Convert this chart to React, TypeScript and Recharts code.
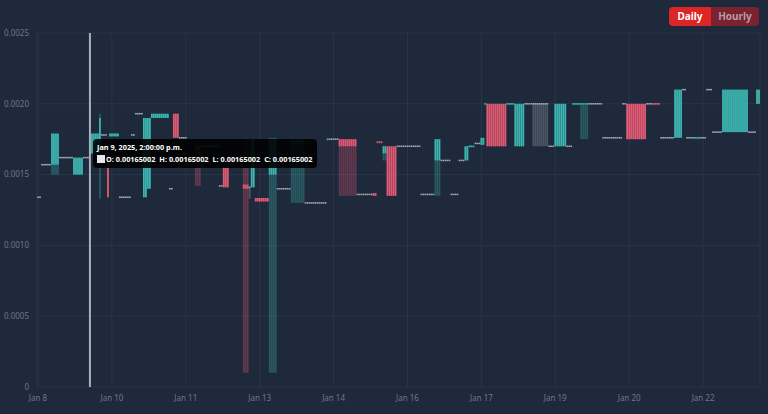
import React from "react";
import { Bar, CartesianGrid, ComposedChart, Tooltip, XAxis, YAxis } from "recharts";

const BG = "#1e293b";
const GRID = "#2a3548";
const TICK = "#6e7889";
const TEAL = "#3cb4b0";
const RED = "#e05a73";
const GRAY = "#a3a9b3";
const FONT = "'Noto Sans', sans-serif";

// hourly candles, start time of the first one
const START = Date.UTC(2025, 0, 8, 12);
const HOURS_PER_TICK = 37;
const tickLabels = ["Jan 8", "Jan 10", "Jan 11", "Jan 13", "Jan 14", "Jan 16", "Jan 17", "Jan 19", "Jan 20", "Jan 22"];
const priceTicks = [0, 0.0005, 0.001, 0.0015, 0.002, 0.0025];

// runs of identical hourly candles (null = no trade)
const runLength = [
  2, 5, 4, 7, 5, 3, 1, 4, 1, 3,
  1, 5, 6, 2, 4, 2, 2, 9, 2, 3,
  4, 4, 3, 9, 2, 3, 7, 3, 1, 2,
  7, 4, 7, 7, 11, 1, 5, 9, 8, 2,
  3, 2, 5, 12, 7, 3, 5, 4, 3, 2,
  3, 3, 2, 1, 10, 4, 5, 4, 8, 3,
  6, 3, 4, 4, 7, 10, 2, 10, 3, 4,
  7, 4, 2, 4, 3, 3, 3, 5, 13, 4,
  2,
];
const runOpen = [
  0.00134, 0.00157, 0.00157, 0.00162, 0.0015, 0.00162, 0.00165002, 0.00165, 0.00165, 0.00178,
  0.00164, 0.00177, 0.00134, 0.00178, 0.00193, 0.00134, 0.0014, 0.0019, 0.0014, 0.00193,
  0.00176, null, 0.0017, 0.0017, 0.00142, 0.00155, null, 0.00143, 0.00141, 0.00141,
  0.001335, 0.0015, 0.0014, 0.00172, 0.0013, 0.00174, 0.00175, 0.00175, 0.00136, 0.00137,
  0.00173, 0.00165, 0.0017, 0.0017, 0.00136, 0.0016, 0.0016, 0.00136, 0.0016, 0.0016,
  0.00169, 0.00172, 0.00171, 0.00199, 0.002, 0.00199, 0.0017, 0.002, 0.002, 0.0017,
  0.0017, 0.0017, 0.00199, 0.00199, 0.002, 0.00176, 0.002, 0.002, 0.002, 0.002,
  0.00176, 0.00176, 0.0021, 0.00176, 0.00175, 0.00176, 0.0021, 0.0018, 0.0018, 0.0018,
  0.002,
];
const runHigh = [
  0.00134, 0.00157, 0.00179, 0.00162, 0.00162, 0.00162, 0.00165002, 0.00179, 0.00193, 0.00178,
  0.00164, 0.00179, 0.00134, 0.00178, 0.00193, 0.0019, 0.0019, 0.00193, 0.0014, 0.00193,
  0.00176, null, 0.0017, 0.0017, 0.00142, 0.00155, null, 0.00175, 0.00141, 0.00175,
  0.001335, 0.00176, 0.0014, 0.00175, 0.0013, 0.00175, 0.00175, 0.00175, 0.00136, 0.00137,
  0.00173, 0.0017, 0.0017, 0.0017, 0.00136, 0.00175, 0.0016, 0.00136, 0.0016, 0.0017,
  0.0017, 0.00172, 0.00176, 0.002, 0.002, 0.002, 0.002, 0.002, 0.002, 0.0017,
  0.002, 0.0017, 0.002, 0.002, 0.002, 0.00176, 0.002, 0.002, 0.002, 0.002,
  0.00176, 0.0021, 0.0021, 0.00176, 0.00176, 0.00176, 0.0021, 0.0018, 0.0021, 0.0018,
  0.0021,
];
const runLow = [
  0.00134, 0.00157, 0.0015, 0.00162, 0.0015, 0.00162, 0.00165002, 0.00165, 0.00133, 0.00178,
  0.00134, 0.00177, 0.00134, 0.00178, 0.00193, 0.00134, 0.0014, 0.0019, 0.0014, 0.00176,
  0.00176, null, 0.00142, 0.0017, 0.00142, 0.00141, null, 0.0001, 0.00133, 0.00141,
  0.00131, 0.0001, 0.0014, 0.0013, 0.0013, 0.00174, 0.00175, 0.00135, 0.00136, 0.00135,
  0.00172, 0.0016, 0.00135, 0.0017, 0.00136, 0.00135, 0.0016, 0.00136, 0.0016, 0.0016,
  0.00169, 0.00172, 0.00171, 0.00199, 0.0017, 0.00199, 0.0017, 0.002, 0.0017, 0.0017,
  0.0017, 0.0017, 0.00199, 0.00175, 0.002, 0.00176, 0.002, 0.00175, 0.002, 0.00199,
  0.00176, 0.00176, 0.0021, 0.00176, 0.00175, 0.00176, 0.0021, 0.0018, 0.0018, 0.0018,
  0.002,
];
const runClose = [
  0.00134, 0.00157, 0.00179, 0.00162, 0.00162, 0.00162, 0.00165002, 0.00179, 0.0019, 0.00178,
  0.00134, 0.00179, 0.00134, 0.00178, 0.00193, 0.0019, 0.0019, 0.00193, 0.0014, 0.00176,
  0.00176, null, 0.00168, 0.0017, 0.00142, 0.00141, null, 0.0014, 0.00141, 0.00175,
  0.00131, 0.00175, 0.0014, 0.00174, 0.0013, 0.00175, 0.00175, 0.0017, 0.00136, 0.00135,
  0.00172, 0.0017, 0.00135, 0.0017, 0.00136, 0.00175, 0.0016, 0.00136, 0.0016, 0.0017,
  0.0017, 0.00172, 0.00176, 0.002, 0.0017, 0.002, 0.002, 0.002, 0.002, 0.0017,
  0.002, 0.0017, 0.002, 0.002, 0.002, 0.00176, 0.002, 0.00175, 0.002, 0.00199,
  0.00176, 0.0021, 0.0021, 0.00176, 0.00176, 0.00176, 0.0021, 0.0018, 0.0021, 0.0018,
  0.0021,
];

type Candle = {
  i: number;
  t: number;
  o: number | null;
  h: number | null;
  l: number | null;
  c: number | null;
  range: [number, number] | null;
};

const candles: Candle[] = [];
runLength.forEach((n, r) => {
  for (let k = 0; k < n; k++) {
    const i = candles.length;
    const o = runOpen[r];
    candles.push({
      i,
      t: START + i * 3600 * 1000,
      o,
      h: runHigh[r],
      l: runLow[r],
      c: runClose[r],
      range: o == null ? null : [runLow[r] as number, runHigh[r] as number],
    });
  }
});

const MONTHS = ["Jan", "Feb", "Mar", "Apr", "May", "Jun", "Jul", "Aug", "Sep", "Oct", "Nov", "Dec"];

function fmtTime(t: number) {
  const d = new Date(t);
  const hr = d.getUTCHours();
  const h12 = hr % 12 === 0 ? 12 : hr % 12;
  const mm = String(d.getUTCMinutes()).padStart(2, "0");
  return `${MONTHS[d.getUTCMonth()]} ${d.getUTCDate()}, ${d.getUTCFullYear()}, ${h12}:${mm}:00 ${hr < 12 ? "a.m." : "p.m."}`;
}

function CandleShape(props: any) {
  const { x, y, width, height, payload } = props;
  if (!payload || payload.o == null) return null;
  const { o, h, l, c } = payload as { o: number; h: number; l: number; c: number };
  const toY = (v: number) => (h === l ? y : y + ((h - v) / (h - l)) * height);
  const bw = Math.max(1, width * 0.88);
  const bx = x + (width - bw) / 2;
  const color = c > o ? TEAL : c < o ? RED : GRAY;
  const top = toY(Math.max(o, c));
  const bot = toY(Math.min(o, c));
  const bh = Math.max(1.5, bot - top);
  return (
    <g>
      {h > l && <rect x={bx} y={y} width={bw} height={height} fill={color} fillOpacity={0.35} />}
      <rect x={bx} y={bot - top < 1.5 ? top - 0.75 : top} width={bw} height={bh} fill={color} />
    </g>
  );
}

function TipContent({ active, payload }: any) {
  if (!active || !payload || !payload.length) return null;
  const d = payload[0].payload as Candle;
  const v = (n: number | null) => (n == null ? "" : n.toFixed(8));
  const gap = { marginRight: 4 };
  return (
    <div
      style={{
        background: "rgba(0,0,0,0.9)",
        borderRadius: 4,
        padding: "2px 5px 3px 4px",
        color: "#fff",
        fontFamily: FONT,
        fontSize: 7.3,
        fontWeight: 700,
        lineHeight: "12px",
        whiteSpace: "nowrap",
      }}
    >
      <div>{fmtTime(d.t)}</div>
      <div style={{ display: "flex", alignItems: "center" }}>
        <span style={{ display: "inline-block", width: 8, height: 8, background: "#e5e7eb", marginRight: 1 }} />
        <span style={gap}>O: {v(d.o)}</span>
        <span style={gap}>H: {v(d.h)}</span>
        <span style={gap}>L: {v(d.l)}</span>
        <span>C: {v(d.c)}</span>
      </div>
    </div>
  );
}

export default function App() {
  return (
    <div style={{ position: "absolute", left: 0, top: 0, width: 768, height: 414, background: BG, overflow: "hidden" }}>
      <ComposedChart
        width={768}
        height={414}
        data={candles}
        margin={{ top: 33, right: 8, bottom: 0, left: 0 }}
        barCategoryGap={0}
        barGap={0}
      >
        <CartesianGrid stroke={GRID} />
        <XAxis
          dataKey="i"
          interval={HOURS_PER_TICK - 1}
          tickFormatter={(v: number) => tickLabels[Math.round(v / HOURS_PER_TICK)] ?? ""}
          axisLine={false}
          tickLine={false}
          height={27}
          tick={{ fill: TICK, fontSize: 8, fontFamily: FONT }}
        />
        <YAxis
          domain={[0, 0.0025]}
          ticks={priceTicks}
          tickFormatter={(v: number) => (v === 0 ? "0" : v.toFixed(4))}
          axisLine={false}
          tickLine={false}
          width={37}
          tick={{ fill: TICK, fontSize: 8, fontFamily: FONT }}
        />
        <Tooltip
          defaultIndex={26}
          content={<TipContent />}
          cursor={{ stroke: "#aab0ba", strokeWidth: 2 }}
          position={{ x: 93, y: 139 }}
          isAnimationActive={false}
          wrapperStyle={{ outline: "none" }}
        />
        <Bar dataKey="range" shape={<CandleShape />} isAnimationActive={false} />
      </ComposedChart>
      <div
        style={{
          position: "absolute",
          left: 669,
          top: 7,
          display: "flex",
          borderRadius: 4,
          overflow: "hidden",
          fontFamily: FONT,
          fontSize: 10,
          fontWeight: 700,
          lineHeight: "19px",
        }}
      >
        <div style={{ width: 42, height: 19, background: "#dc2626", color: "#fff", textAlign: "center" }}>Daily</div>
        <div style={{ width: 48, height: 19, background: "#7a2230", color: "#b79ca2", textAlign: "center" }}>Hourly</div>
      </div>
    </div>
  );
}
